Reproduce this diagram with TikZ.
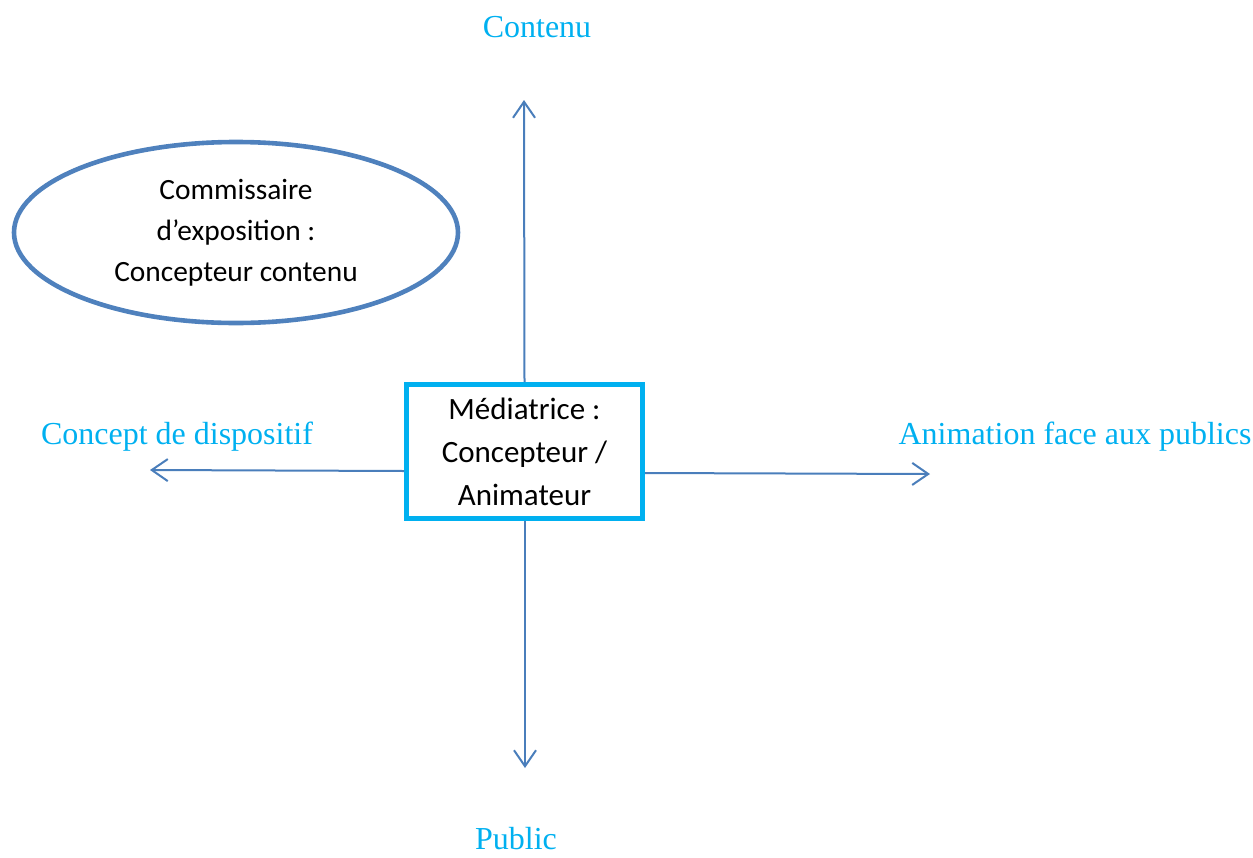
\documentclass[tikz,border=0pt]{standalone}
\usepackage{fontspec}
\setmainfont{Liberation Serif}
\newfontfamily\calib{Carlito}
\usetikzlibrary{arrows.meta,shapes.geometric}
\definecolor{lblblue}{HTML}{00B0F0}
\definecolor{arrblue}{HTML}{4A7EBB}
\definecolor{ellblue}{HTML}{4F81BD}
\tikzset{
  axis/.style={draw=arrblue, line width=1pt, -{Straight Barb[length=8pt,width=11pt,line width=1pt]}},
  lbl/.style={text=lblblue, font=\fontsize{16}{19}\selectfont, inner sep=0pt},
  rolebox/.style={draw=lblblue, line width=2.5pt, minimum width=118pt, minimum height=67pt, inner sep=0pt, align=center, font=\calib\fontsize{15.5}{21.5}\selectfont, fill=white},
  roleell/.style={ellipse, draw=ellblue, line width=2.3pt, minimum width=222pt, minimum height=90.5pt, inner sep=0pt, align=center, font=\calib\fontsize{14.7}{20.5}\selectfont}
}
\begin{document}
\begin{tikzpicture}[x=0.5pt,y=-0.5pt]
\useasboundingbox (0,0) rectangle (1253,857);
\node[rolebox] (med) at (524.5,451.5) {Médiatrice :\\Concepteur /\\Animateur};
\node[roleell] (com) at (236,232.5) {Commissaire\\d’exposition :\\Concepteur contenu};
\coordinate (up) at (524,100);
\coordinate (dn) at (525,768);
\coordinate (lt) at (150,470);
\coordinate (rt) at (930,474);
\draw[axis] (med.north) -- (up);
\draw[axis] ([xshift=0.25pt]med.south) -- (dn);
\draw[axis] ([yshift=-9.75pt]med.west) -- (lt);
\draw[axis] ([yshift=-10.75pt]med.east) -- (rt);
\node[lbl] (tc) at (537,27) {Contenu};
\node[lbl] (tl) at (177,437) {Concept de dispositif};
\node[lbl] (tr) at (1075,437) {Animation face aux publics};
\node[lbl] (tb) at (516,839) {Public};
\end{tikzpicture}
\end{document}
